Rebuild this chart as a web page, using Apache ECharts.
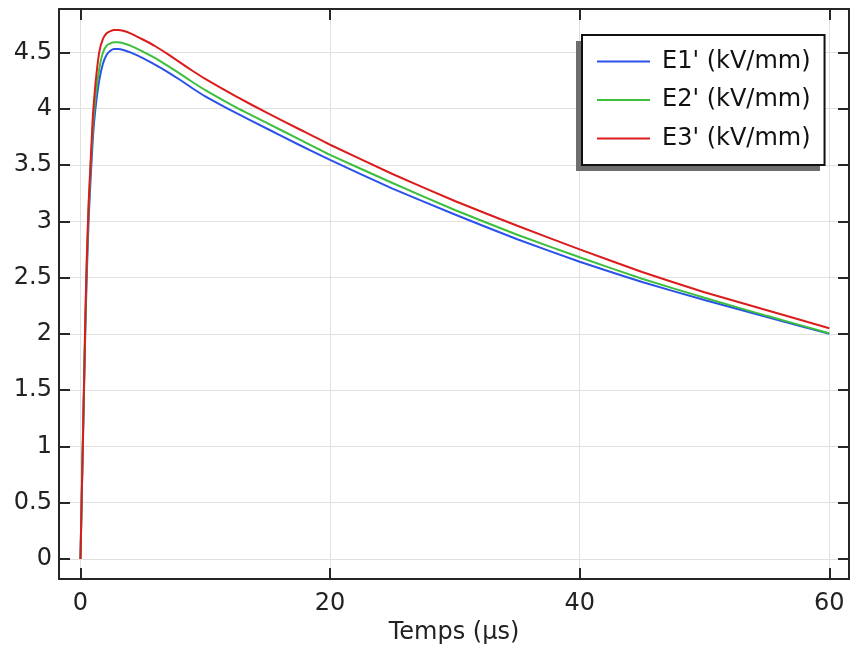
<!DOCTYPE html>
<html>
<head>
<meta charset="utf-8">
<script src="https://cdn.jsdelivr.net/npm/echarts@6/dist/echarts.min.js"></script>
<style>html,body{margin:0;padding:0;background:#fff}#c{width:851px;height:647px}</style>
</head>
<body>
<div id="c"></div>
<script>
const time = [0,0.1,0.2,0.3,0.4,0.5,0.65,0.8,1.0,1.2,1.5,1.8,2.1,2.4,2.7,3.0,3.5,4,5,6,7,8,9,10,12.5,15,17.5,20,25,30,35,40,45,50,55,60];
const e1 = [0,0.53,1.05,1.58,2.08,2.5,3.0,3.35,3.75,4.0,4.25,4.4,4.48,4.515,4.53,4.53,4.52,4.50,4.45,4.39,4.325,4.255,4.18,4.11,3.96,3.82,3.68,3.545,3.29,3.06,2.84,2.64,2.46,2.30,2.15,2.0];
const e2 = [0,0.55,1.1,1.63,2.15,2.6,3.1,3.45,3.85,4.1,4.35,4.5,4.56,4.58,4.59,4.59,4.58,4.56,4.508,4.45,4.38,4.31,4.235,4.165,4.01,3.87,3.73,3.59,3.34,3.10,2.88,2.68,2.49,2.32,2.16,2.005];
const e3 = [0,0.55,1.1,1.65,2.2,2.65,3.15,3.5,3.95,4.22,4.5,4.62,4.67,4.69,4.70,4.70,4.69,4.67,4.615,4.555,4.485,4.41,4.335,4.265,4.107,3.96,3.82,3.68,3.42,3.18,2.96,2.75,2.55,2.37,2.21,2.05];
const seriesNames = ["E1' (kV/mm)", "E2' (kV/mm)", "E3' (kV/mm)"];
const colors = ['#2a52ea', '#3cbf3c', '#dc1c1c'];
const xTicks = [0,20,40,60];
const yTicks = [0,0.5,1,1.5,2,2.5,3,3.5,4,4.5];
const xName = 'Temps (µs)';

const pairs = a => time.map((t,i)=>[t,a[i]]);
const FONT = 'DejaVu Sans';
const FS = 24;
const X_MIN=-1.72, X_MAX=61.58, Y_MIN=-0.178, Y_MAX=4.886;
const lineStyleAxis = {show:true, onZero:false, lineStyle:{color:'#262626', width:2}};
const gridLine = {show:true, lineStyle:{color:'#e0e0e0', width:1}};
function xAx(pos, main){
  return {type:'value', position:pos, min:X_MIN, max:X_MAX,
    axisLine:lineStyleAxis,
    axisTick:{show:true, inside:true, length:11, customValues:xTicks, lineStyle:{color:'#262626', width:2}},
    axisLabel:{show:main, customValues:xTicks, margin:13, fontFamily:FONT, fontSize:FS, color:'#222'},
    splitLine: main ? gridLine : {show:false},
    name: main ? xName : '', nameLocation:'middle', nameGap:28,
    nameTextStyle:{fontFamily:FONT, fontSize:FS, color:'#222'}};
}
function yAx(pos, main){
  return {type:'value', position:pos, min:Y_MIN, max:Y_MAX,
    axisLine:lineStyleAxis,
    axisTick:{show:true, inside:true, length:11, customValues:yTicks, lineStyle:{color:'#262626', width:2}},
    axisLabel:{show:main, customValues:yTicks, margin:7, fontFamily:FONT, fontSize:FS, color:'#222'},
    splitLine: main ? gridLine : {show:false}};
}
const chart = echarts.init(document.getElementById('c'), null, {renderer:'canvas'});
chart.setOption({
  animation:false,
  backgroundColor:'#fff',
  grid:{left:59, top:9, right:2, bottom:68, containLabel:false, outerBoundsMode:'none'},
  xAxis:[xAx('bottom',true), xAx('top',false)],
  yAxis:[yAx('left',true), yAx('right',false)],
  graphic:[{type:'rect', left:576, top:41, z:5, shape:{width:244, height:130}, style:{fill:'#6e6e6e'}}],
  legend:{
    orient:'vertical', left:582, top:35, z:10,
    data:seriesNames,
    icon:'rect', itemWidth:53, itemHeight:2, itemGap:12.5,
    padding:[13.5,14,13.5,15],
    backgroundColor:'#fff', borderColor:'#111', borderWidth:2,
    textStyle:{fontFamily:FONT, fontSize:FS, color:'#111', lineHeight:26, padding:[0,0,0,7]}
  },
  series:[e1,e2,e3].map((d,i)=>({
    name:seriesNames[i], type:'line', data:pairs(d), symbol:'none', smooth:0.15,
    color:colors[i], lineStyle:{width:2, color:colors[i]}, z:2+i
  }))
});
</script>
</body>
</html>
